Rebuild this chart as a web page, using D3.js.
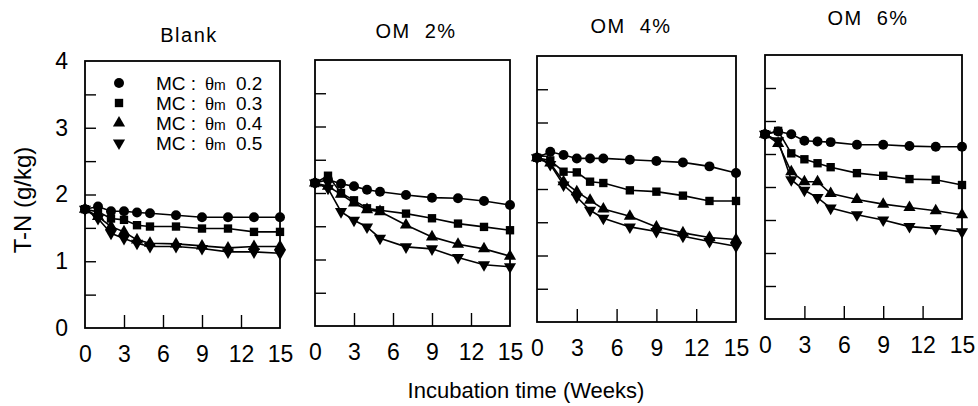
<!DOCTYPE html>
<html>
<head>
<meta charset="utf-8">
<script src="https://cdn.jsdelivr.net/npm/d3@7"></script>
<style>
  body { margin: 0; background: #fff; }
  svg { font-family: "Liberation Sans", Arial, sans-serif; }
  .frame { fill: none; stroke: #000; stroke-width: 1.8px; }
  .axis path { display: none; }
  .axis line { stroke: #000; stroke-width: 1.4px; }
  .line { fill: none; stroke: #000; stroke-width: 1.6px; }
</style>
</head>
<body>
<script>
(function() {
  // incubation weeks sampled
  var weeks = [0, 1, 2, 3, 4, 5, 7, 9, 11, 13, 15];
  var panelNames = ["Blank", "OM  2%", "OM  4%", "OM  6%"];
  var moisture = ["0.2", "0.3", "0.4", "0.5"];
  var xTicks = [0, 3, 6, 9, 12, 15];
  var yLabels = [0, 1, 2, 3, 4];
  var yMinor = [0.5, 1, 1.5, 2, 2.5, 3, 3.5];

  // T-N (g/kg), one row per moisture level (0.2, 0.3, 0.4, 0.5)
  var blank = [
    [1.78, 1.82, 1.75, 1.75, 1.73, 1.72, 1.69, 1.66, 1.66, 1.66, 1.66],
    [1.78, 1.74, 1.64, 1.62, 1.54, 1.52, 1.52, 1.49, 1.49, 1.44, 1.44],
    [1.78, 1.67, 1.52, 1.44, 1.32, 1.27, 1.26, 1.23, 1.20, 1.22, 1.22],
    [1.78, 1.64, 1.42, 1.34, 1.27, 1.22, 1.22, 1.19, 1.14, 1.14, 1.12]
  ];
  var om2 = [
    [2.15, 2.20, 2.14, 2.10, 2.05, 2.02, 1.97, 1.93, 1.92, 1.88, 1.82],
    [2.15, 2.26, 2.00, 1.89, 1.77, 1.74, 1.69, 1.62, 1.54, 1.49, 1.44],
    [2.15, 2.10, 1.98, 1.85, 1.75, 1.72, 1.52, 1.34, 1.23, 1.16, 1.05],
    [2.15, 2.07, 1.72, 1.59, 1.49, 1.32, 1.19, 1.16, 1.03, 0.92, 0.89]
  ];
  var om4 = [
    [2.47, 2.56, 2.51, 2.46, 2.46, 2.46, 2.44, 2.42, 2.40, 2.34, 2.24],
    [2.47, 2.43, 2.26, 2.25, 2.11, 2.09, 1.98, 1.96, 1.90, 1.82, 1.82],
    [2.47, 2.39, 2.11, 1.96, 1.83, 1.70, 1.59, 1.43, 1.34, 1.27, 1.24],
    [2.47, 2.37, 2.06, 1.88, 1.68, 1.56, 1.43, 1.36, 1.29, 1.21, 1.14]
  ];
  var om6 = [
    [2.80, 2.84, 2.80, 2.70, 2.69, 2.68, 2.64, 2.64, 2.62, 2.61, 2.61],
    [2.80, 2.85, 2.51, 2.42, 2.36, 2.30, 2.21, 2.17, 2.12, 2.11, 2.03],
    [2.80, 2.66, 2.23, 2.08, 2.08, 1.90, 1.81, 1.74, 1.69, 1.64, 1.58],
    [2.80, 2.70, 2.11, 1.95, 1.84, 1.68, 1.58, 1.50, 1.40, 1.37, 1.32]
  ];
  var panelData = [blank, om2, om4, om6];

  // panel frames (scanned figure is slightly skewed, so each gets its own box)
  var boxes = [
    { left: 85,  right: 280, bottom: 328, top: 61, titleX: 189, titleY: 42 },
    { left: 315, right: 510, bottom: 326, top: 60, titleX: 416, titleY: 38 },
    { left: 537, right: 736, bottom: 322, top: 56, titleX: 631, titleY: 33 },
    { left: 765, right: 962, bottom: 319, top: 55, titleX: 868, titleY: 25 }
  ];

  var symbols = [
    d3.symbol().type(d3.symbolCircle).size(78),
    d3.symbol().type(d3.symbolSquare).size(70),
    d3.symbol().type(d3.symbolTriangle).size(64),
    d3.symbol().type(d3.symbolTriangle).size(64)
  ];
  var rotation = [0, 0, 0, 180];

  var svg = d3.select("body").append("svg")
      .attr("width", 978)
      .attr("height", 406);

  panelData.forEach(function(series, i) {
    var b = boxes[i];
    var x = d3.scaleLinear().domain([0, 15]).range([b.left, b.right]);
    var y = d3.scaleLinear().domain([0, 4]).range([b.bottom, b.top]);

    var g = svg.append("g");

    g.append("text")
        .attr("x", b.titleX)
        .attr("y", b.titleY)
        .attr("text-anchor", "middle")
        .attr("font-size", "20px")
        .attr("letter-spacing", "1.5px")
        .attr("xml:space", "preserve")
        .text(panelNames[i]);

    // inward ticks
    g.append("g")
        .attr("class", "axis")
        .attr("transform", "translate(" + b.left + ",0)")
        .call(d3.axisLeft(y).tickValues(yMinor).tickSizeInner(-11).tickSizeOuter(0).tickFormat(""));

    g.append("g")
        .attr("class", "axis")
        .attr("transform", "translate(0," + b.bottom + ")")
        .call(d3.axisBottom(x).tickValues(xTicks.slice(1, -1)).tickSizeInner(-13).tickSizeOuter(0).tickFormat(""));

    // x tick labels
    g.append("g")
        .attr("class", "axis")
        .attr("transform", "translate(0," + b.bottom + ")")
        .call(d3.axisBottom(x).tickValues(xTicks).tickSize(0).tickPadding(18).tickFormat(d3.format("d")))
        .call(a => a.selectAll("text")
          .attr("font-size", "23px")
          .attr("font-family", "Liberation Sans, Arial, sans-serif")
          .attr("fill", "#000"));

    if (i == 0) {
      g.append("g")
          .attr("class", "axis")
          .attr("transform", "translate(" + b.left + ",0)")
          .call(d3.axisLeft(y).tickValues(yLabels).tickSize(0).tickPadding(17).tickFormat(d3.format("d")))
          .call(a => a.selectAll("text")
            .attr("font-size", "23px")
            .attr("font-family", "Liberation Sans, Arial, sans-serif")
            .attr("fill", "#000"));
    }

    var line = d3.line()
        .x((_, j) => x(weeks[j]))
        .y(d => y(d));

    g.selectAll("path.line")
      .data(series)
      .join("path")
        .attr("class", "line")
        .attr("d", d => line(d));

    series.forEach(function(vals, k) {
      g.append("g")
        .selectAll("path")
        .data(vals)
        .join("path")
          .attr("d", symbols[k])
          .attr("fill", "#000")
          .attr("transform", (d, j) => "translate(" + x(weeks[j]) + "," + y(d) + ") rotate(" + rotation[k] + ")");
    });

    g.append("rect")
        .attr("class", "frame")
        .attr("x", b.left)
        .attr("y", b.top)
        .attr("width", b.right - b.left)
        .attr("height", b.bottom - b.top);
  });

  // legend inside the Blank panel
  var legend = svg.append("g");
  moisture.forEach(function(m, k) {
    var cy = 83 + k * 20;
    legend.append("path")
        .attr("d", symbols[k])
        .attr("fill", "#000")
        .attr("transform", "translate(119," + cy + ") rotate(" + rotation[k] + ")");
    var t = legend.append("text")
        .attr("y", cy + 7)
        .attr("font-size", "19px");
    t.append("tspan").attr("x", 156).text("MC :");
    t.append("tspan").attr("x", 205).attr("font-family", "Liberation Serif, serif").text("θ");
    t.append("tspan").attr("font-size", "14px").text("m");
    t.append("tspan").attr("x", 236).text(m);
  });

  svg.append("text")
      .attr("x", 526)
      .attr("y", 398)
      .attr("text-anchor", "middle")
      .attr("font-size", "22px")
      .text("Incubation time (Weeks)");

  svg.append("text")
      .attr("transform", "translate(31,200) rotate(-90)")
      .attr("text-anchor", "middle")
      .attr("font-size", "24px")
      .text("T-N (g/kg)");
})();
</script>
</body>
</html>
